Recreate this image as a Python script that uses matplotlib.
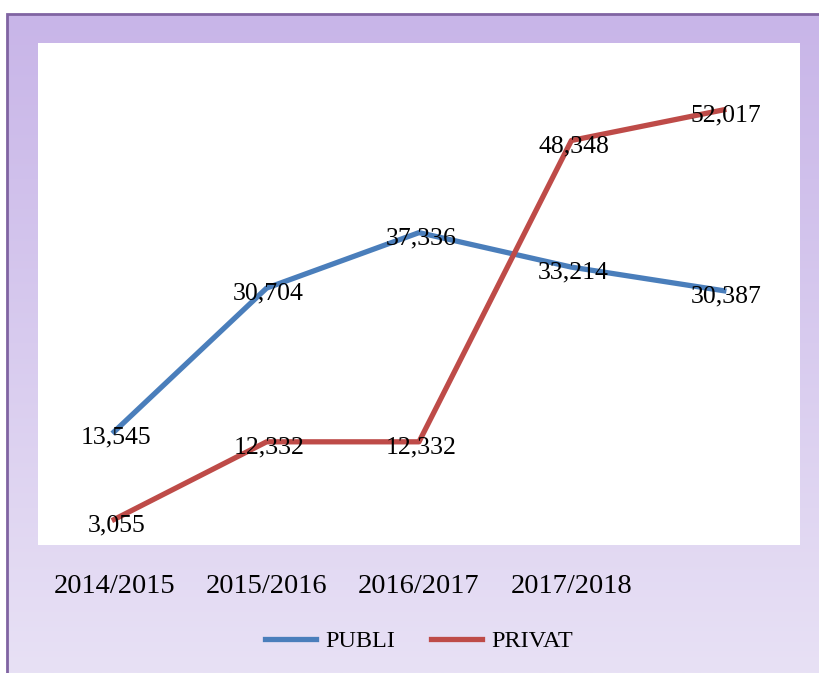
import numpy as np
import matplotlib
matplotlib.use("Agg")
import matplotlib.pyplot as plt
from matplotlib.patches import Rectangle

years = ["2014/2015", "2015/2016", "2016/2017", "2017/2018", ""]
publi = [13545, 30704, 37336, 33214, 30387]
privat = [3055, 12332, 12332, 48348, 52017]

W, H = 819, 673
plt.rcParams['font.family'] = ['Liberation Serif', 'DejaVu Serif']

fig = plt.figure(figsize=(W / 100, H / 100), dpi=100)
fig.patch.set_facecolor('white')

# purple gradient background panel
bg = fig.add_axes([7 / W, 0, 1 - 7 / W, 1 - 14 / H], zorder=0)
top = np.array([200, 181, 232]) / 255
bot = np.array([232, 225, 245]) / 255
t = np.linspace(0, 1, 256)[:, None]
grad = (top * (1 - t) + bot * t)[:, None, :]
bg.imshow(grad, aspect='auto', extent=[0, 1, 0, 1])
bg.axis('off')
fig.patches.append(Rectangle((7 / W, -0.1), 1.2, 1 - 14 / H + 0.1,
                             transform=fig.transFigure, fill=False,
                             edgecolor='#8064A2', lw=2, zorder=1))

ax = fig.add_axes([38 / W, (H - 545) / H, 762 / W, 502 / H], zorder=2)
ax.set_facecolor('white')
x = np.arange(len(years))
ax.plot(x, publi, color='#4A7EBB', lw=3.8, label='PUBLI', solid_joinstyle='round')
ax.plot(x, privat, color='#BE4B48', lw=3.8, label='PRIVAT', solid_joinstyle='round')

for xi, v in zip(x, publi):
    ax.annotate(f"{v:,}", (xi, v), xytext=(1.5, -4), textcoords='offset points',
                ha='center', va='center', fontsize=18.5)
for xi, v in zip(x, privat):
    ax.annotate(f"{v:,}", (xi, v), xytext=(1.5, -4), textcoords='offset points',
                ha='center', va='center', fontsize=18.5)

ax.set_xlim(-0.5, len(years) - 0.5)
ax.set_ylim(0, 60000)
ax.set_xticks(x)
ax.set_xticklabels(years, fontsize=20.5)
ax.tick_params(axis='x', length=0, pad=21)
ax.set_yticks([])
for s in ax.spines.values():
    s.set_visible(False)

fig.legend(loc='center', bbox_to_anchor=(419 / W, 1 - 641 / H), ncol=2,
           frameon=False, fontsize=17.5, handlelength=2.1, handletextpad=0.35,
           columnspacing=1.5)

fig.savefig('out.png', dpi=100)
